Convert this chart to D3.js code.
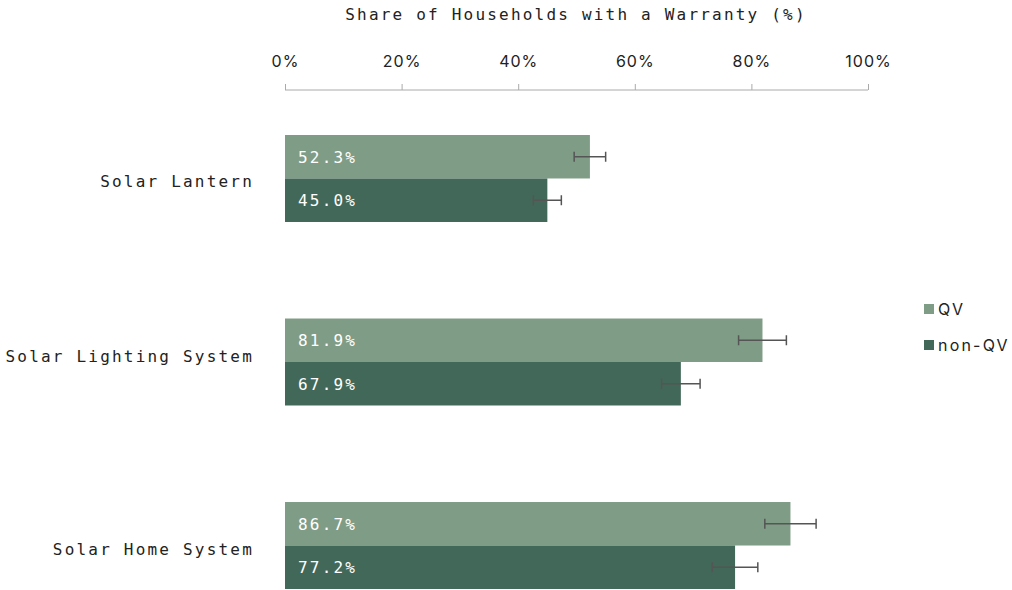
<!DOCTYPE html>
<html>
<head>
<meta charset="utf-8">
<script src="https://cdn.jsdelivr.net/npm/d3@7"></script>
<style>
  body { margin: 0; background: #fff; }
  .mono { font-family: "DejaVu Sans Mono", monospace; font-size: 16px; letter-spacing: 2.2px; }
</style>
</head>
<body>
<div id="chart"></div>
<script>
// datos
var categories = ["Solar Lantern", "Solar Lighting System", "Solar Home System"];
var series = ["QV", "non-QV"];
var qvValues = [52.3, 81.9, 86.7];
var nonQvValues = [45.0, 67.9, 77.2];
var qvErrors = [2.7, 4.1, 4.4];
var nonQvErrors = [2.4, 3.3, 3.9];
var tickValues = [0, 20, 40, 60, 80, 100];
var colors = ["#7f9c86", "#426859"];

var width = 1012, height = 590;
var svg = d3.select("#chart").append("svg")
    .attr("width", width)
    .attr("height", height);

var x = d3.scaleLinear().domain([0, 100]).range([285, 868]);
var y = d3.scaleBand().domain(categories).range([135, 589]).paddingInner(0.526).paddingOuter(0);
var sub = d3.scaleBand().domain(series).range([0, y.bandwidth()]);

// titulo
svg.append("text")
    .attr("class", "mono")
    .attr("x", 576)
    .attr("y", 20)
    .attr("text-anchor", "middle")
    .attr("fill", "#222")
    .text("Share of Households with a Warranty (%)");

// eje superior
var axis = d3.axisTop(x)
    .tickValues(tickValues)
    .tickSize(6)
    .tickFormat(function(d) { return d + "%"; });

var gAxis = svg.append("g")
    .attr("transform", "translate(0,90)")
    .call(axis);
gAxis.select(".domain").attr("stroke", "#aaa").attr("d", "M285,0H868");
gAxis.selectAll(".tick line").attr("stroke", "#aaa");
gAxis.selectAll(".tick text")
    .attr("y", -23)
    .attr("fill", "#222")
    .style("font-family", "Inter, sans-serif")
    .style("font-size", "16px")
    .style("letter-spacing", "1px");

// filas
var rows = categories.map(function(c, i) {
    return [
        { cat: c, s: "QV", v: qvValues[i], e: qvErrors[i] },
        { cat: c, s: "non-QV", v: nonQvValues[i], e: nonQvErrors[i] }
    ];
});

var groups = svg.selectAll(".grp")
    .data(rows)
    .enter().append("g")
    .attr("class", "grp")
    .attr("transform", function(d) { return "translate(0," + y(d[0].cat) + ")"; });

groups.selectAll("rect")
    .data(function(d) { return d; })
    .enter().append("rect")
    .attr("x", x(0))
    .attr("y", function(d) { return sub(d.s); })
    .attr("width", function(d) { return x(d.v) - x(0); })
    .attr("height", sub.bandwidth())
    .attr("fill", function(d, i) { return colors[i]; });

groups.selectAll(".val")
    .data(function(d) { return d; })
    .enter().append("text")
    .attr("class", "mono val")
    .attr("x", x(0) + 13)
    .attr("y", function(d) { return sub(d.s) + sub.bandwidth() / 2 + 6; })
    .attr("fill", "#fff")
    .text(function(d) { return d.v.toFixed(1) + "%"; });

// barras de error
groups.each(function(d) {
    var g = d3.select(this);
    d.forEach(function(r) {
        var cy = sub(r.s) + sub.bandwidth() / 2;
        var x1 = x(r.v - r.e), x2 = x(r.v + r.e);
        g.append("line").attr("x1", x1).attr("x2", x2).attr("y1", cy).attr("y2", cy)
            .attr("stroke", "#555").attr("stroke-width", 1.5);
        [x1, x2].forEach(function(xx) {
            g.append("line").attr("x1", xx).attr("x2", xx).attr("y1", cy - 5).attr("y2", cy + 5)
                .attr("stroke", "#555").attr("stroke-width", 1.5);
        });
    });
});

// etiquetas de categoria
svg.selectAll(".cat")
    .data(categories)
    .enter().append("text")
    .attr("class", "mono cat")
    .attr("x", 254)
    .attr("y", function(d, i) { return y(d) + y.bandwidth() / 2 + 9 - (i === 1 ? 9 : 0); })
    .attr("text-anchor", "end")
    .attr("fill", "#222")
    .text(function(d) { return d; });

// leyenda
var legend = svg.selectAll(".leg")
    .data(series)
    .enter().append("g")
    .attr("class", "leg")
    .attr("transform", function(d, i) { return "translate(924," + (304 + i * 36) + ")"; });

legend.append("rect")
    .attr("width", 10)
    .attr("height", 10)
    .attr("fill", function(d, i) { return colors[i]; });

legend.append("text")
    .attr("x", 14)
    .attr("y", 10.5)
    .attr("fill", "#222")
    .style("font-family", "Inter, sans-serif")
    .style("font-size", "16px")
    .style("letter-spacing", "2.2px")
    .text(function(d) { return d; });
</script>
</body>
</html>
